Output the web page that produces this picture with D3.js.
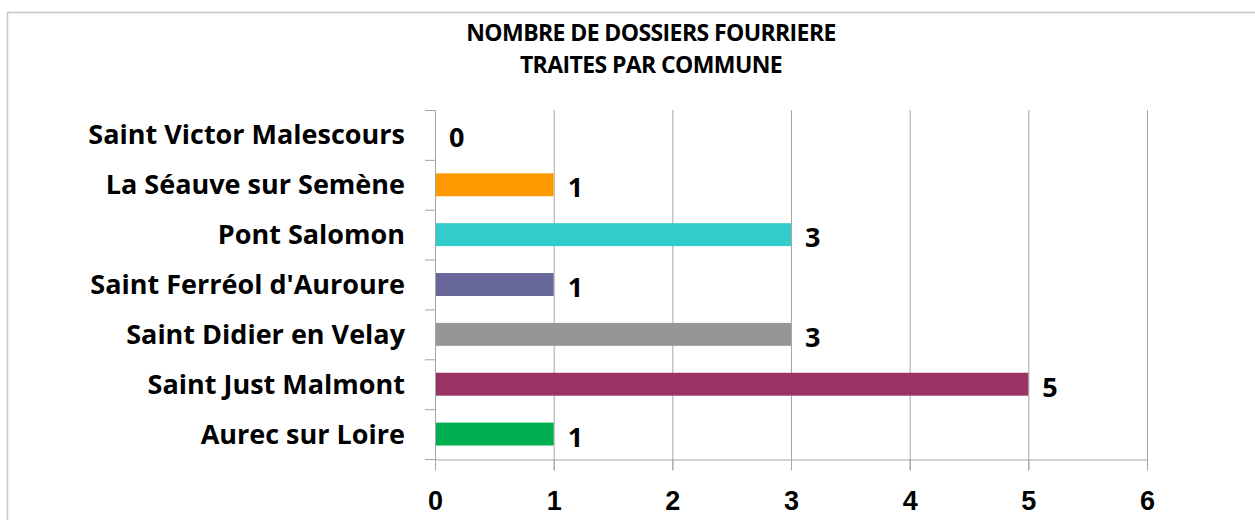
<!DOCTYPE html>
<html>
<head>
<meta charset="utf-8">
<script src="https://cdn.jsdelivr.net/npm/d3@7"></script>
<style>
  body { margin: 0; background: #fff; }
  svg { display: block; font-family: "Open Sans", "Noto Sans", sans-serif; }
</style>
</head>
<body>
<svg id="chart" width="1255" height="520"></svg>
<script>
// Data
const communes = [
  'Saint Victor Malescours',
  'La Séauve sur Semène',
  'Pont Salomon',
  'Saint Ferréol d\'Auroure',
  'Saint Didier en Velay',
  'Saint Just Malmont',
  'Aurec sur Loire',
];
const dossiers = [0, 1, 3, 1, 3, 5, 1];
const barColors = ['#ff9900', '#ff9900', '#33cccc', '#666699', '#969696', '#993366', '#00b050'];
const xTicks = [0, 1, 2, 3, 4, 5, 6];
const titleLines = ['NOMBRE DE DOSSIERS FOURRIERE', 'TRAITES PAR COMMUNE'];

const d3 = window.d3;
const svg = d3.select('#chart');
const margin = {top: 110, right: 108, bottom: 61, left: 435};
const width = 1255;
const height = 520;

// Outer chart frame
svg.append('path')
    .attr('d', `M7.5,${height} V12.5 H${width}`)
    .attr('fill', 'none')
    .attr('stroke', '#c8c8c8')
    .attr('stroke-width', 1.5);

// Title
svg.append('g')
    .selectAll('text')
    .data(titleLines)
    .join('text')
    .attr('x', 651)
    .attr('y', (d, i) => 41 + i * 32)
    .attr('text-anchor', 'middle')
    .style('font-size', '23px')
    .style('font-weight', 'bold')
    .style('letter-spacing', '-0.6px')
    .text((d) => d);

const x = d3.scaleLinear()
    .domain([0, 6])
    .range([margin.left, width - margin.right]);

const y = d3.scaleBand()
    .domain(communes)
    .range([margin.top, height - margin.bottom])
    .paddingInner(0.54)
    .paddingOuter(0.27);

// Vertical gridlines
svg.append('g')
    .selectAll('line')
    .data(xTicks.slice(1))
    .join('line')
    .attr('x1', (d) => x(d) + 0.5)
    .attr('x2', (d) => x(d) + 0.5)
    .attr('y1', margin.top)
    .attr('y2', height - margin.bottom + 11)
    .attr('stroke', '#a6a6a6');

// Bars
svg.append('g')
    .selectAll('rect')
    .data(communes)
    .join('rect')
    .attr('x', x(0) + 1)
    .attr('y', (d) => y(d))
    .attr('width', (d, i) => Math.max(0, x(dossiers[i]) - x(0) - 1))
    .attr('height', y.bandwidth())
    .attr('fill', (d, i) => barColors[i]);

// X axis
const xAxis = svg.append('g')
    .attr('transform', `translate(0,${height - margin.bottom + 0.5})`)
    .call(d3.axisBottom(x).tickValues(xTicks).tickFormat(d3.format('d'))
        .tickSize(11).tickSizeOuter(0).tickPadding(20));
xAxis.select('.domain').attr('stroke', '#a6a6a6');
xAxis.selectAll('.tick line').attr('stroke', '#a6a6a6');
xAxis.selectAll('.tick text')
    .attr('fill', '#000')
    .style('font-size', '27px')
    .style('font-weight', 'bold');

// Y axis: ticks sit between categories
const yBoundaries = d3.range(communes.length + 1);
const step = (height - margin.bottom - margin.top) / communes.length;
svg.append('g')
    .selectAll('line')
    .data(yBoundaries)
    .join('line')
    .attr('x1', margin.left - 10)
    .attr('x2', margin.left)
    .attr('y1', (d) => margin.top + d * step + 0.5)
    .attr('y2', (d) => margin.top + d * step + 0.5)
    .attr('stroke', '#a6a6a6');
svg.append('line')
    .attr('x1', margin.left + 0.5)
    .attr('x2', margin.left + 0.5)
    .attr('y1', margin.top)
    .attr('y2', height - margin.bottom + 11)
    .attr('stroke', '#a6a6a6');

// Category labels
svg.append('g')
    .selectAll('text')
    .data(communes)
    .join('text')
    .attr('x', 405)
    .attr('y', (d) => y(d) + y.bandwidth() / 2)
    .attr('dy', '0.35em')
    .attr('text-anchor', 'end')
    .style('font-size', '27px')
    .style('font-weight', 'bold')
    .text((d) => d);

// Value labels
svg.append('g')
    .selectAll('text')
    .data(communes)
    .join('text')
    .attr('x', (d, i) => x(dossiers[i]) + 14)
    .attr('y', (d) => y(d) + y.bandwidth() / 2 + 3)
    .attr('dy', '0.35em')
    .style('font-size', '27px')
    .style('font-weight', 'bold')
    .text((d, i) => dossiers[i]);
</script>
</body>
</html>
